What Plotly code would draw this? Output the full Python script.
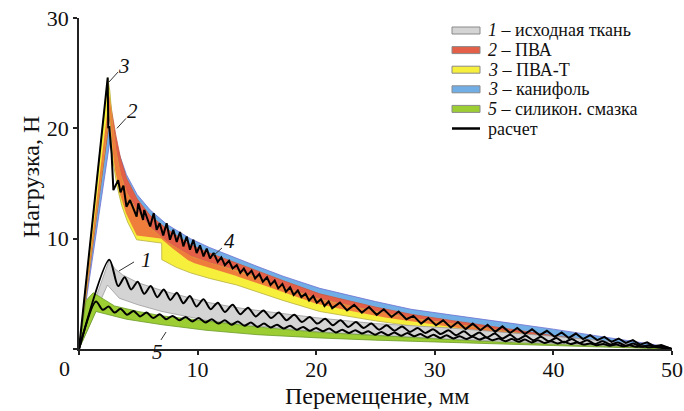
import numpy as np
import plotly.graph_objects as go

# ---------------- data ----------------
# band boundaries (displacement, mm ; load, N)
blue_up_x = [0, 1.2, 2.42, 2.9, 3.4, 4.0, 4.9, 6.0, 7.4, 9.4, 11, 13.3, 15, 17.2, 20.3, 25, 28, 31.3, 34, 37, 40, 43, 46, 48.5, 50]
blue_up_y = [0, 10.0, 20.0, 19.2, 17.6, 15.8, 14.0, 12.6, 11.3, 10.0, 9.2, 8.2, 7.5, 6.6, 5.5, 4.3, 3.6, 3.1, 2.7, 2.3, 1.8, 1.3, 0.8, 0.4, 0]
blue_lo_x = [0, 2.6, 3.0, 3.5, 4.0, 5.0, 7.0, 9.4, 13.3, 17.2, 20.3, 25, 31.3, 40, 46, 50]
blue_lo_y = [0, 18.8, 16.5, 14.5, 13.2, 12.0, 10.6, 9.0, 7.6, 5.9, 4.7, 3.5, 2.4, 1.1, 0.45, 0]

red_up_x = [0, 2.55, 2.8, 3.1, 3.5, 4.0, 4.9, 6.0, 7.4, 9.4, 11, 13.3, 15, 17.2, 20.3, 25, 28, 31.3, 34, 37, 40, 43, 46, 50]
red_up_y = [0, 23.0, 21.3, 19.4, 17.3, 15.5, 13.6, 12.1, 10.9, 9.45, 8.7, 7.8, 7.1, 6.2, 5.0, 3.8, 3.15, 2.6, 2.2, 1.7, 1.2, 0.8, 0.45, 0]
red_lo_x = [0, 2.6, 2.9, 3.2, 3.6, 4.1, 4.86, 5.5, 7.0, 8.2, 9.4, 11, 13.3, 15, 17.2, 20.3, 25, 28, 31.3, 34, 37, 40, 43, 46, 50]
red_lo_y = [0, 21.0, 17.2, 15.2, 13.4, 11.9, 10.3, 10.2, 10.0, 8.8, 7.9, 7.3, 6.6, 6.0, 5.1, 4.0, 3.0, 2.45, 2.0, 1.6, 1.25, 0.85, 0.55, 0.3, 0]

yel_up_x = [0, 2.42, 2.6, 2.8, 3.1, 3.5, 4.0, 5.0, 6.0, 7.4, 9.4, 11, 13.3, 15, 17.2, 20.3, 25, 28, 31.3, 34, 37, 40, 43, 46, 50]
yel_up_y = [0, 24.6, 23.4, 20.8, 18.0, 15.8, 14.2, 12.3, 11.0, 9.7, 8.4, 7.8, 7.1, 6.5, 5.6, 4.5, 3.4, 2.8, 2.3, 1.9, 1.45, 1.0, 0.65, 0.35, 0]
yel_lo_x = [0, 2.6, 2.75, 2.9, 3.2, 3.6, 4.1, 4.86, 6.97, 6.98, 8.2, 9.4, 11, 13.3, 15, 17.2, 20.3, 25, 28, 31.3, 34, 37, 40, 43, 46, 50]
yel_lo_y = [0, 21.6, 18.6, 16.8, 14.8, 13.0, 11.5, 9.9, 9.6, 8.1, 7.4, 6.9, 6.4, 5.8, 5.2, 4.4, 3.4, 2.55, 2.1, 1.75, 1.4, 1.05, 0.65, 0.4, 0.2, 0]

gray_up_x = [0, 1.2, 2.56, 3.0, 3.7, 5, 7, 10.5, 13, 15, 20.3, 25, 31.3, 35, 40, 45, 48, 50]
gray_up_y = [0, 4.0, 8.1, 7.3, 6.7, 6.0, 5.3, 4.3, 3.8, 3.5, 2.8, 2.3, 1.9, 1.6, 1.15, 0.65, 0.3, 0]
gray_lo_x = [0, 2.4, 3.4, 5, 7, 10.7, 15, 20.3, 25, 31.3, 35, 40, 45, 50]
gray_lo_y = [0, 5.8, 4.6, 4.0, 3.4, 2.6, 2.1, 1.55, 1.25, 0.9, 0.7, 0.5, 0.3, 0]

green_up_x = [0, 0.6, 1.2, 2.0, 3.0, 5, 7, 10.7, 15, 20.3, 25, 31.3, 35, 40, 45, 50]
green_up_y = [0, 4.4, 5.1, 4.6, 3.9, 3.4, 3.0, 2.55, 2.0, 1.5, 1.2, 0.85, 0.65, 0.45, 0.25, 0]
green_lo_x = [0, 1.43, 2.5, 4, 7, 10.7, 15, 20.3, 25, 31.3, 40, 45, 50]
green_lo_y = [0, 3.4, 3.1, 2.7, 2.2, 1.7, 1.3, 1.0, 0.8, 0.55, 0.3, 0.15, 0]

# calculated curves (black)
calc_a_x = [0, 2.42, 2.47, 2.55, 2.75, 2.9, 3.3, 3.5, 3.75, 4.0, 4.3, 4.6, 4.86, 5.0, 5.4, 5.5, 6.0, 6.3, 6.55, 6.8,
            7.1, 7.39, 7.67, 7.95, 8.24, 8.52, 8.8, 9.08, 9.36, 9.64, 9.92, 10.2, 10.5, 10.77, 11.05, 11.35, 11.7, 12.0,
            12.3, 12.65, 12.95, 13.3, 13.6, 13.9, 14.2, 14.55, 14.85, 15.2, 15.5, 15.85, 16.15, 16.5, 16.8, 17.15, 17.45,
            17.8, 18.1, 18.45, 18.75, 19.1, 19.4, 19.75, 20.05, 20.4, 20.7, 21.05, 21.35, 22.0, 22.6, 23.2, 23.85, 24.45,
            25.1, 25.7, 26.35, 26.95, 27.6, 28.2, 28.85, 29.45, 30.1, 30.7, 31.35, 31.95, 32.6, 33.2, 33.85, 34.45, 35.1,
            35.7, 36.35, 36.95, 37.6, 38.2, 38.85, 39.45, 40.1, 40.7, 41.3, 41.9, 42.5, 43.1, 43.7, 44.3, 44.9, 45.5,
            46.1, 46.7, 47.3, 47.9, 48.5, 49.1, 50]
calc_a_y = [0, 24.6, 20.0, 20.2, 17.7, 14.4, 15.3, 14.2, 14.8, 12.9, 13.5, 12.6, 12.0, 13.2, 11.7, 12.6, 11.1, 12.3, 10.8, 11.4,
            10.3, 11.4, 9.9, 10.8, 9.7, 10.6, 9.3, 10.2, 9.0, 9.9, 8.7, 9.4, 8.4, 9.1, 8.2, 8.7, 7.9, 8.3,
            7.6, 8.0, 7.3, 7.6, 6.9, 7.3, 6.7, 7.1, 6.4, 6.8, 6.1, 6.5, 5.8, 6.2, 5.5, 5.9, 5.2,
            5.6, 4.9, 5.3, 4.7, 5.0, 4.4, 4.8, 4.2, 4.5, 3.9, 4.3, 3.7, 4.2, 3.5, 4.0, 3.3, 3.8,
            3.1, 3.6, 2.9, 3.4, 2.7, 3.0, 2.3, 2.8, 2.15, 2.6, 1.95, 2.45, 1.8, 2.3, 1.7, 2.2, 1.55,
            2.05, 1.45, 1.9, 1.35, 1.8, 1.25, 1.65, 1.1, 1.5, 1.0, 1.4, 0.9, 1.25, 0.8, 1.1, 0.65, 0.95,
            0.55, 0.8, 0.4, 0.6, 0.25, 0.35, 0]

calc_1_x = [0, 2.56, 3.3, 3.85, 4.4, 4.95, 5.5, 6.05, 6.6, 7.15, 7.7, 8.25, 8.8, 9.35, 9.9, 10.5, 11.1, 11.7, 12.3, 12.95,
            13.6, 14.25, 14.9, 15.55, 16.2, 16.85, 17.5, 18.15, 18.8, 19.45, 20.1, 20.75, 21.4, 22.05, 22.7, 23.35, 24.0,
            24.65, 25.3, 25.95, 26.6, 27.25, 27.9, 28.55, 29.2, 29.85, 30.5, 31.15, 31.8, 32.45, 33.1, 33.75, 34.4, 35.05,
            35.7, 36.35, 37.0, 37.65, 38.3, 38.95, 39.6, 40.25, 40.9, 41.55, 42.2, 42.85, 43.5, 44.15, 44.8, 45.45, 46.1,
            46.75, 47.4, 48.05, 48.7, 49.35, 50]
calc_1_y = [0, 8.1, 5.7, 6.5, 5.4, 6.1, 5.0, 5.7, 4.7, 5.4, 4.45, 5.1, 4.15, 4.8, 3.85, 4.5, 3.6, 4.2, 3.35, 4.0,
            3.15, 3.75, 2.95, 3.5, 2.8, 3.3, 2.6, 3.1, 2.45, 2.9, 2.3, 2.75, 2.15, 2.6, 2.0, 2.45, 1.9,
            2.3, 1.75, 2.15, 1.65, 2.05, 1.55, 1.9, 1.45, 1.8, 1.35, 1.7, 1.25, 1.6, 1.15, 1.5, 1.05, 1.4,
            0.95, 1.3, 0.85, 1.2, 0.8, 1.1, 0.7, 1.0, 0.6, 0.9, 0.55, 0.8, 0.45, 0.7, 0.4, 0.6, 0.3,
            0.5, 0.2, 0.35, 0.15, 0.2, 0]

calc_5_x = [0, 1.43, 2.0, 2.5, 3.0, 3.5, 4.05, 4.6, 5.15, 5.7, 6.25, 6.8, 7.35, 7.9, 8.45, 9.0, 9.55, 10.1, 10.65, 11.2,
            11.75, 12.3, 12.85, 13.4, 13.95, 14.5, 15.05, 15.6, 16.15, 16.7, 17.25, 17.8, 18.35, 18.9, 19.45, 20.0, 20.55,
            21.1, 21.65, 22.2, 22.75, 23.3, 23.85, 24.4, 24.95, 25.5, 26.05, 26.6, 27.15, 27.7, 28.25, 28.8, 29.35, 29.9,
            30.45, 31.0, 31.55, 32.1, 32.65, 33.2, 33.75, 34.3, 34.85, 35.4, 35.95, 36.5, 37.05, 37.6, 38.15, 38.7, 39.25,
            39.8, 40.35, 40.9, 41.45, 42.0, 42.55, 43.1, 43.65, 44.2, 44.75, 45.3, 45.85, 46.4, 46.95, 47.5, 48.05, 48.6,
            49.15, 50]
calc_5_y = [0, 4.3, 3.55, 3.85, 3.3, 3.65, 3.1, 3.45, 2.95, 3.3, 2.8, 3.15, 2.7, 3.0, 2.6, 2.9, 2.5, 2.8, 2.4, 2.7,
            2.3, 2.6, 2.2, 2.5, 2.1, 2.4, 2.0, 2.3, 1.95, 2.2, 1.85, 2.1, 1.75, 2.0, 1.65, 1.9, 1.6,
            1.85, 1.5, 1.75, 1.45, 1.7, 1.4, 1.6, 1.3, 1.55, 1.25, 1.5, 1.2, 1.45, 1.15, 1.35, 1.05, 1.3,
            1.0, 1.25, 0.95, 1.15, 0.9, 1.1, 0.85, 1.05, 0.8, 0.95, 0.7, 0.9, 0.65, 0.85, 0.6, 0.8, 0.55,
            0.7, 0.5, 0.65, 0.45, 0.6, 0.4, 0.5, 0.35, 0.45, 0.3, 0.4, 0.25, 0.35, 0.2, 0.25, 0.15, 0.2,
            0.1, 0]

legend_nums = ["1", "2", "3", "3", "5"]
legend_names = ["исходная ткань", "ПВА", "ПВА-Т", "канифоль", "силикон. смазка"]
legend_calc = "расчет"
x_title = "Перемещение, мм"
y_title = "Нагрузка, Н"
x_ticks = [0, 10, 20, 30, 40, 50]
y_ticks = [0, 10, 20, 30]

# ---------------- style ----------------
FONT = "Liberation Serif"
C_BLUE, E_BLUE = "#72aee6", "#6f6fd0"
C_RED, E_RED = "#e45f48", "#c85a40"
C_YEL, E_YEL = "#f6ef3c", "#b8b040"
C_ORA = "#ef7e3c"
C_GRAY, E_GRAY = "#d4d4d4", "#9a9a9a"
C_GRN, E_GRN = "#9cce34", "#6c9a28"
TXT = "#111111"

fig = go.Figure()


def band(ux, uy, lx, ly, fill, edge):
    fig.add_trace(go.Scatter(x=list(ux) + list(lx)[::-1], y=list(uy) + list(ly)[::-1],
                             fill="toself", fillcolor=fill, mode="lines",
                             line=dict(color=edge, width=0.8), showlegend=False, hoverinfo="skip"))


band(blue_up_x, blue_up_y, blue_lo_x, blue_lo_y, C_BLUE, E_BLUE)
band(red_up_x, red_up_y, red_lo_x, red_lo_y, C_RED, E_RED)
band(yel_up_x, yel_up_y, yel_lo_x, yel_lo_y, C_YEL, E_YEL)

# overlap of the PVA and PVA-T bands is shown orange
g = np.linspace(0, 50, 2001)
top = np.minimum(np.interp(g, yel_up_x, yel_up_y), np.interp(g, red_up_x, red_up_y))
bot = np.maximum(np.interp(g, yel_lo_x, yel_lo_y), np.interp(g, red_lo_x, red_lo_y))
bot = np.minimum(bot, top)
fig.add_trace(go.Scatter(x=np.concatenate([g, g[::-1]]), y=np.concatenate([top, bot[::-1]]),
                         fill="toself", fillcolor=C_ORA, mode="lines", line=dict(width=0),
                         showlegend=False, hoverinfo="skip"))

band(gray_up_x, gray_up_y, gray_lo_x, gray_lo_y, C_GRAY, E_GRAY)
band(green_up_x, green_up_y, green_lo_x, green_lo_y, C_GRN, E_GRN)

fig.add_trace(go.Scatter(x=calc_1_x, y=calc_1_y, mode="lines", line=dict(color="black", width=2, shape="spline", smoothing=0.8),
                         showlegend=False, hoverinfo="skip"))
fig.add_trace(go.Scatter(x=calc_5_x, y=calc_5_y, mode="lines", line=dict(color="black", width=2, shape="spline", smoothing=0.8),
                         showlegend=False, hoverinfo="skip"))
fig.add_trace(go.Scatter(x=calc_a_x, y=calc_a_y, mode="lines", line=dict(color="black", width=2),
                         showlegend=False, hoverinfo="skip"))

# ---------------- layout ----------------
L, R, T, B = 79, 12, 18, 62
W, H = 684, 411
PW, PH = W - L - R, H - T - B


def px(xp):
    return (xp - L) / PW


def py(yp):
    return (H - B - yp) / PH


shapes = []
annotations = []

# legend (drawn manually for compact rows)
swatch_cols = [(C_GRAY, E_GRAY), (C_RED, E_RED), (C_YEL, E_YEL), (C_BLUE, E_BLUE), (C_GRN, E_GRN)]
ROW0, DY = 30.5, 19.6
for i, (num, name) in enumerate(zip(legend_nums, legend_names)):
    yc = ROW0 + DY * i
    shapes.append(dict(type="rect", xref="paper", yref="paper", x0=px(452), x1=px(480), y0=py(yc + 3.5), y1=py(yc - 3.5),
                       fillcolor=swatch_cols[i][0], line=dict(color="#8a8a8a", width=1)))
    annotations.append(dict(xref="paper", yref="paper", x=px(487), y=py(yc), xanchor="left", yanchor="middle",
                            text=f"<i>{num}</i> – {name}", showarrow=False, borderpad=0,
                            font=dict(family=FONT, size=18, color=TXT)))
yc = ROW0 + DY * 5
shapes.append(dict(type="line", xref="paper", yref="paper", x0=px(452), x1=px(480), y0=py(yc), y1=py(yc),
                   line=dict(color="black", width=2.5)))
annotations.append(dict(xref="paper", yref="paper", x=px(487), y=py(yc), xanchor="left", yanchor="middle",
                        text=legend_calc, showarrow=False, borderpad=0, font=dict(family=FONT, size=18, color=TXT)))

# curve labels (pixel position) with leader lines (data units)
curve_labels = [("3", 124, 66, (2.53, 24.2), (3.29, 25.1)),
                ("2", 132, 111, (3.2, 20.0), (3.96, 20.9)),
                ("1", 146, 260, (3.37, 7.07), (4.64, 7.89)),
                ("4", 230, 241, (11.3, 8.43), (12.06, 9.16)),
                ("5", 157, 352, (7.34, 1.54), (6.91, 0.82))]
for txt, tx, ty, p0, p1 in curve_labels:
    shapes.append(dict(type="line", xref="x", yref="y", x0=p0[0], y0=p0[1], x1=p1[0], y1=p1[1],
                       line=dict(color="#333", width=1)))
    annotations.append(dict(xref="paper", yref="paper", x=px(tx), y=py(ty), xanchor="center", yanchor="middle",
                            text=f"<i>{txt}</i>", showarrow=False, borderpad=0,
                            font=dict(family=FONT, size=21, color=TXT)))

# shared origin label
annotations.append(dict(xref="paper", yref="paper", x=px(64), y=py(368), xanchor="center", yanchor="middle",
                        text="0", showarrow=False, borderpad=0, font=dict(family=FONT, size=22, color=TXT)))
# axis titles
annotations.append(dict(xref="paper", yref="paper", x=px(377), y=py(396), xanchor="center", yanchor="middle",
                        text=x_title, showarrow=False, borderpad=0, font=dict(family=FONT, size=24, color=TXT)))
annotations.append(dict(xref="paper", yref="paper", x=px(31), y=py(177), xanchor="center", yanchor="middle",
                        text=y_title, textangle=-90, showarrow=False, borderpad=0,
                        font=dict(family=FONT, size=24, color=TXT)))

axis_common = dict(showgrid=False, zeroline=False, showline=True, linecolor="#222", linewidth=1.6,
                   ticks="outside", ticklen=4, tickwidth=1.5, tickcolor="#222", ticklabeloverflow="allow",
                   tickfont=dict(family=FONT, size=22, color=TXT), automargin=False)

fig.update_layout(
    width=W, height=H, margin=dict(l=L, r=R, t=T, b=B, pad=0),
    paper_bgcolor="white", plot_bgcolor="white", showlegend=False,
    font=dict(family=FONT, color=TXT),
    xaxis=dict(range=[0, 50], tickvals=x_ticks, ticktext=[""] + [str(v) for v in x_ticks[1:]],
               ticklabelstandoff=-4, **axis_common),
    yaxis=dict(range=[0, 30], tickvals=y_ticks, ticktext=[""] + [str(v) for v in y_ticks[1:]],
               **axis_common),
    shapes=shapes, annotations=annotations,
)

fig.write_html("out.html")
